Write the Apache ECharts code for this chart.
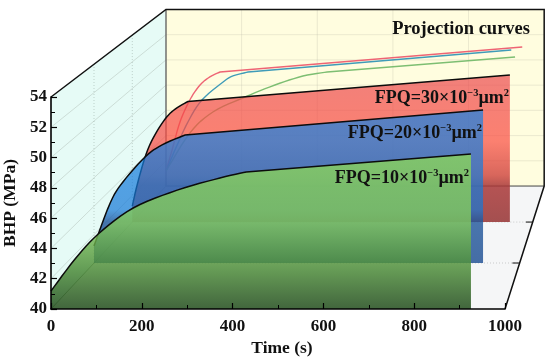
<!DOCTYPE html>
<html><head><meta charset="utf-8">
<style>html,body{margin:0;padding:0;background:#fff}#c{width:550px;height:358px}</style>
<script src="https://cdn.jsdelivr.net/npm/echarts@6/dist/echarts.min.js"></script>
</head><body><div id="c"></div>
<script>
// Front-plane curves: [time (s), BHP (MPa)]
const greenFront = [[0,41.19],[53,43.30],[104,44.95],[181,46.67],[278,47.85],[372,48.65],[430,49.05],[925,50.24]];
const blueFront  = [[0,41.2],[38,44.23],[68,45.71],[120,47.47],[160,48.32],[214,49.02],[914,50.78]];
const redFront   = [[0,41.2],[12,42.77],[32,44.87],[52,46.29],[82,47.72],[107,48.46],[139,49.03],[943,51.01]];
// Projection curves on the back wall
const redProj   = [[0,41.19],[16,42.85],[37,45.08],[63,46.82],[90,48.01],[116,48.65],[143,49.04],[942,51.02]];
const blueProj  = [[0,41.19],[26,43.01],[58,45.08],[95,46.82],[151,48.25],[177,48.73],[217,49.04],[913,50.78]];
const greenProj = [[0,41.19],[63,44.2],[124,45.87],[209,47.06],[288,48.01],[362,48.72],[426,49.04],[923,50.23]];
const xTicks = [0,200,400,600,800,1000];
const yTicks = [40,42,44,46,48,50,52,54];
const depths = {green:0, blue:0.374, red:0.707, back:1};
const fqpLabels = ['30','20','10'];

// Perspective of the pseudo-3D box, expressed in front-axis units
const SHIFT_X = 253.3, SHIFT_Y = 8.12, SHRINK = 0.167;
function project(p, z){
  const s = 1 - SHRINK*z;
  return [SHIFT_X*z + p[0]*s, 40 + SHIFT_Y*z + (p[1]-40)*s];
}
// Rounds the drawn stroke through the read points; the last segment stays straight.
function rounded(pts){
  const out=[], n=pts.length-1, steps=6;
  for(let i=0;i<n-1;i++){
    const a=pts[Math.max(i-1,0)],b=pts[i],c=pts[i+1],d=pts[Math.min(i+2,n-1)];
    for(let k=0;k<steps;k++){
      const t=k/steps,t2=t*t,t3=t2*t;
      out.push([0,1].map(j=>0.5*(2*b[j]+(c[j]-a[j])*t+(2*a[j]-5*b[j]+4*c[j]-d[j])*t2+(3*b[j]-a[j]-3*c[j]+d[j])*t3)));
    }
  }
  out.push(pts[n-1],pts[n]);
  return out;
}
function coordsOf(api, pts, z){ return rounded(pts.map(p => api.coord(project(p,z)))); }

function once(fn){ return (params, api) => params.dataIndex===0 ? fn(api) : null; }
function grad(stops){ return {type:'linear',x:0,y:0,x2:0,y2:1,colorStops:stops.map(s=>({offset:s[0],color:s[1]}))}; }

function lineEl(pts, stroke, width, dash){
  return {type:'polyline',shape:{points:pts},style:{fill:null,stroke:stroke,lineWidth:width,lineDash:dash||null}};
}
function box(api){
  const P=(x,y,z)=>api.coord(project([x,y],z));
  const kids=[];
  kids.push({type:'polygon',shape:{points:[P(0,40,1),P(1000,40,1),P(1000,54,1),P(0,54,1)]},style:{fill:'#FFFDDF'}});
  kids.push({type:'polygon',shape:{points:[P(0,40,0),P(0,40,1),P(0,54,1),P(0,54,0)]},style:{fill:'#E6FBF6'}});
  kids.push({type:'polygon',shape:{points:[P(0,40,0),P(1000,40,0),P(1000,40,1),P(0,40,1)]},style:{fill:'#F5F6F7'}});
  yTicks.forEach(v=>{
    if(v>40&&v<54) kids.push(lineEl([P(0,v,1),P(1000,v,1)],'rgba(190,190,170,0.3)',1));
    if(v>40&&v<54) kids.push(lineEl([P(0,v,0),P(0,v,1)],'rgba(170,185,175,0.45)',1));
  });
  xTicks.slice(1,-1).forEach(v=>kids.push(lineEl([P(v,40,1),P(v,54,1)],'rgba(190,190,170,0.3)',1)));
  [depths.blue,depths.red].forEach(z=>{
    kids.push(lineEl([P(0,40,z),P(0,54,z)],'rgba(150,170,160,0.5)',1,[1,2]));
    kids.push(lineEl([P(0,40,z),P(1000,40,z)],'rgba(120,120,120,0.35)',1,[1,2]));
    kids.push(lineEl([P(983,40,z),P(1000,40,z)],'#333',1.2));
  });
  kids.push(lineEl([P(0,40,0),P(0,40,1)],'rgba(60,70,60,0.55)',1));
  kids.push(lineEl([P(0,40,1),P(1000,40,1)],'#444',1));
  kids.push(lineEl([P(0,40,1),P(0,54,1)],'#666',1.4));
  kids.push(lineEl([P(0,54,0),P(0,54,1),P(1000,54,1),P(1000,40,1),P(1000,40,0)],'#111',1.5));
  return {type:'group',children:kids};
}
function plane(curve, z, fillStops){
  return (api)=>{
    const top=coordsOf(api,curve,z);
    const last=curve[curve.length-1][0];
    const base=[[last,40],[0,40]].map(p=>api.coord(project(p,z)));
    return {type:'group',children:[
      {type:'polygon',shape:{points:top.concat(base)},style:{fill:grad(fillStops)}},
      lineEl(top,'#0c0c0c',1.5)
    ]};
  };
}
function projCurve(curve,color){ return (api)=>lineEl(coordsOf(api,curve,depths.back),color,1.4); }
function custom(name,data,fn,z){
  return {name,type:'custom',data,encode:{x:0,y:1},renderItem:once(fn),z,silent:true,animation:false,clip:false};
}
const serif='"Liberation Serif","DejaVu Serif",serif';
function fpq(k,right,top){
  return {type:'text',z:50,x:right,y:top,silent:true,style:{
    text:`{a|FPQ=${k}×10}{s|−3}{a|µm}{s|2}`,align:'right',verticalAlign:'middle',
    rich:{a:{fontFamily:serif,fontWeight:'bold',fontSize:18,fill:'#111',lineHeight:20},
          s:{fontFamily:serif,fontWeight:'bold',fontSize:10.5,fill:'#111',verticalAlign:'top',lineHeight:20}}
  }};
}
const axisCommon={axisLine:{onZero:false,lineStyle:{color:'#000',width:1.6}},
  axisTick:{inside:true,length:6,lineStyle:{color:'#000',width:1.2}},
  minorTick:{show:true,splitNumber:2,length:4,lineStyle:{color:'#000',width:1}},
  splitLine:{show:false},minorSplitLine:{show:false},z:20};
const nameStyle={fontFamily:serif,fontWeight:'bold',fontSize:17.5,color:'#111'};
const labStyle={fontFamily:serif,fontWeight:'bold',fontSize:17,color:'#111'};
const plain=v=>String(v);

const chart=echarts.init(document.getElementById('c'),null,{renderer:'canvas'});
chart.setOption({
  animation:false,
  backgroundColor:'#fff',
  grid:{left:51,top:97,width:454,height:212,containLabel:false,outerBoundsMode:'none'},
  xAxis:Object.assign({type:'value',min:0,max:1000,interval:200,name:'Time (s)',nameLocation:'middle',nameGap:29,
    nameTextStyle:Object.assign({padding:[0,0,0,8]},nameStyle),axisLabel:Object.assign({margin:9,formatter:plain},labStyle)},axisCommon),
  yAxis:Object.assign({type:'value',min:40,max:54,interval:2,name:'BHP (MPa)',nameLocation:'middle',nameGap:26,
    nameTextStyle:nameStyle,axisLabel:Object.assign({margin:4,formatter:plain},labStyle)},axisCommon),
  graphic:[
    {type:'text',z:50,x:530,y:29,silent:true,style:{text:'Projection curves',align:'right',verticalAlign:'middle',
      fontFamily:serif,fontWeight:'bold',fontSize:18.5,fill:'#111'}},
    fpq(fqpLabels[0],509,98),fpq(fqpLabels[1],482,133),fpq(fqpLabels[2],469,178)
  ],
  series:[
    custom('box',[[0,40]],box,1),
    custom('Red projection',redProj,projCurve(redProj,'#EE6474'),2),
    custom('Blue projection',blueProj,projCurve(blueProj,'#3F9BB8'),2),
    custom('Green projection',greenProj,projCurve(greenProj,'#7DBE72'),2),
    custom('FPQ=30',redFront,plane(redFront,depths.red,[[0,'rgba(235,75,80,0.7)'],[0.45,'rgba(250,75,65,0.7)'],[0.68,'rgba(205,60,55,0.78)'],[0.75,'rgba(170,55,55,0.85)'],[1,'rgba(150,50,50,0.85)']]),3),
    custom('FPQ=20',blueFront,plane(blueFront,depths.blue,[[0,'rgba(20,130,230,0.7)'],[0.65,'rgba(20,120,215,0.7)'],[0.73,'rgba(30,85,155,0.8)'],[1,'rgba(25,75,145,0.8)']]),4),
    custom('FPQ=10',greenFront,plane(greenFront,depths.green,[[0,'rgba(139,214,90,0.8)'],[0.45,'rgba(130,200,90,0.8)'],[0.75,'rgba(70,135,50,0.82)'],[1,'rgba(26,70,20,0.82)']]),5)
  ]
});
</script></body></html>
